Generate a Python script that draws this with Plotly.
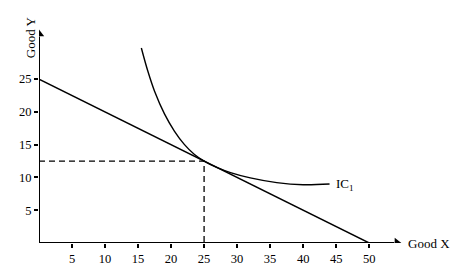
import plotly.graph_objects as go

# Data
budget_x = [0, 50]
budget_y = [25, 0]
ic_x = [15.5, 16.5, 17.5, 19.0, 20.5, 22.0, 23.5, 25.0, 27.0, 29.0, 32.0, 36.0, 40.0, 44.0]
ic_y = [29.75, 26.15, 23.15, 19.7, 17.08, 15.05, 13.55, 12.5, 11.5, 10.74, 9.93, 9.21, 8.89, 9.01]
opt_x = [0, 25, 25]
opt_y = [12.5, 12.5, 0]
x_ticks = [5, 10, 15, 20, 25, 30, 35, 40, 45, 50]
y_ticks = [5, 10, 15, 20, 25]

FONT = "Liberation Serif"

fig = go.Figure()
fig.add_trace(go.Scatter(x=opt_x, y=opt_y, mode="lines",
                         line=dict(color="black", width=1.3, dash="6px,4px")))
fig.add_trace(go.Scatter(x=budget_x, y=budget_y, mode="lines",
                         line=dict(color="black", width=1.4)))
fig.add_trace(go.Scatter(x=ic_x, y=ic_y, mode="lines", line_shape="spline",
                         line=dict(color="black", width=1.4, smoothing=1)))

# axes with arrowheads
fig.add_trace(go.Scatter(x=[0, 53.8], y=[0, 0], mode="lines",
                         line=dict(color="black", width=2)))
fig.add_trace(go.Scatter(x=[0, 0], y=[0, 31.5], mode="lines",
                         line=dict(color="black", width=2)))
fig.add_trace(go.Scatter(x=[54.2], y=[0], mode="markers",
                         marker=dict(symbol="triangle-right", size=9, color="black")))
fig.add_trace(go.Scatter(x=[0], y=[31.9], mode="markers",
                         marker=dict(symbol="triangle-up", size=9, color="black")))

fig.add_annotation(x=55.6, y=0, xref="x", yref="y", text="Good X", showarrow=False,
                   xanchor="left", yanchor="middle", font=dict(family=FONT, size=13, color="black"))
fig.add_annotation(x=0, y=31.4, xref="x", yref="y", text="Good Y", showarrow=False, textangle=-90,
                   xshift=-9, xanchor="center", yanchor="middle", font=dict(family=FONT, size=13, color="black"))
fig.add_annotation(x=44.6, y=8.95, xref="x", yref="y", text="IC<sub>1</sub>", showarrow=False,
                   xanchor="left", yanchor="middle", font=dict(family=FONT, size=13, color="black"))

fig.update_layout(
    width=450, height=274, showlegend=False,
    margin=dict(l=39, r=28, t=7, b=31),
    plot_bgcolor="white", paper_bgcolor="white",
    font=dict(family=FONT, size=12, color="black"),
)
fig.update_xaxes(range=[0, 58], tickvals=x_ticks, ticks="outside", ticklen=4, tickwidth=1.5,
                 tickcolor="black", showgrid=False, zeroline=False, showline=False,
                 tickfont=dict(family=FONT, size=12.5, color="black"))
fig.update_yaxes(range=[0, 36], tickvals=y_ticks, ticks="outside", ticklen=4, tickwidth=1.5,
                 tickcolor="black", showgrid=False, zeroline=False, showline=False,
                 tickfont=dict(family=FONT, size=12.5, color="black"))

fig.write_html("out.html")
